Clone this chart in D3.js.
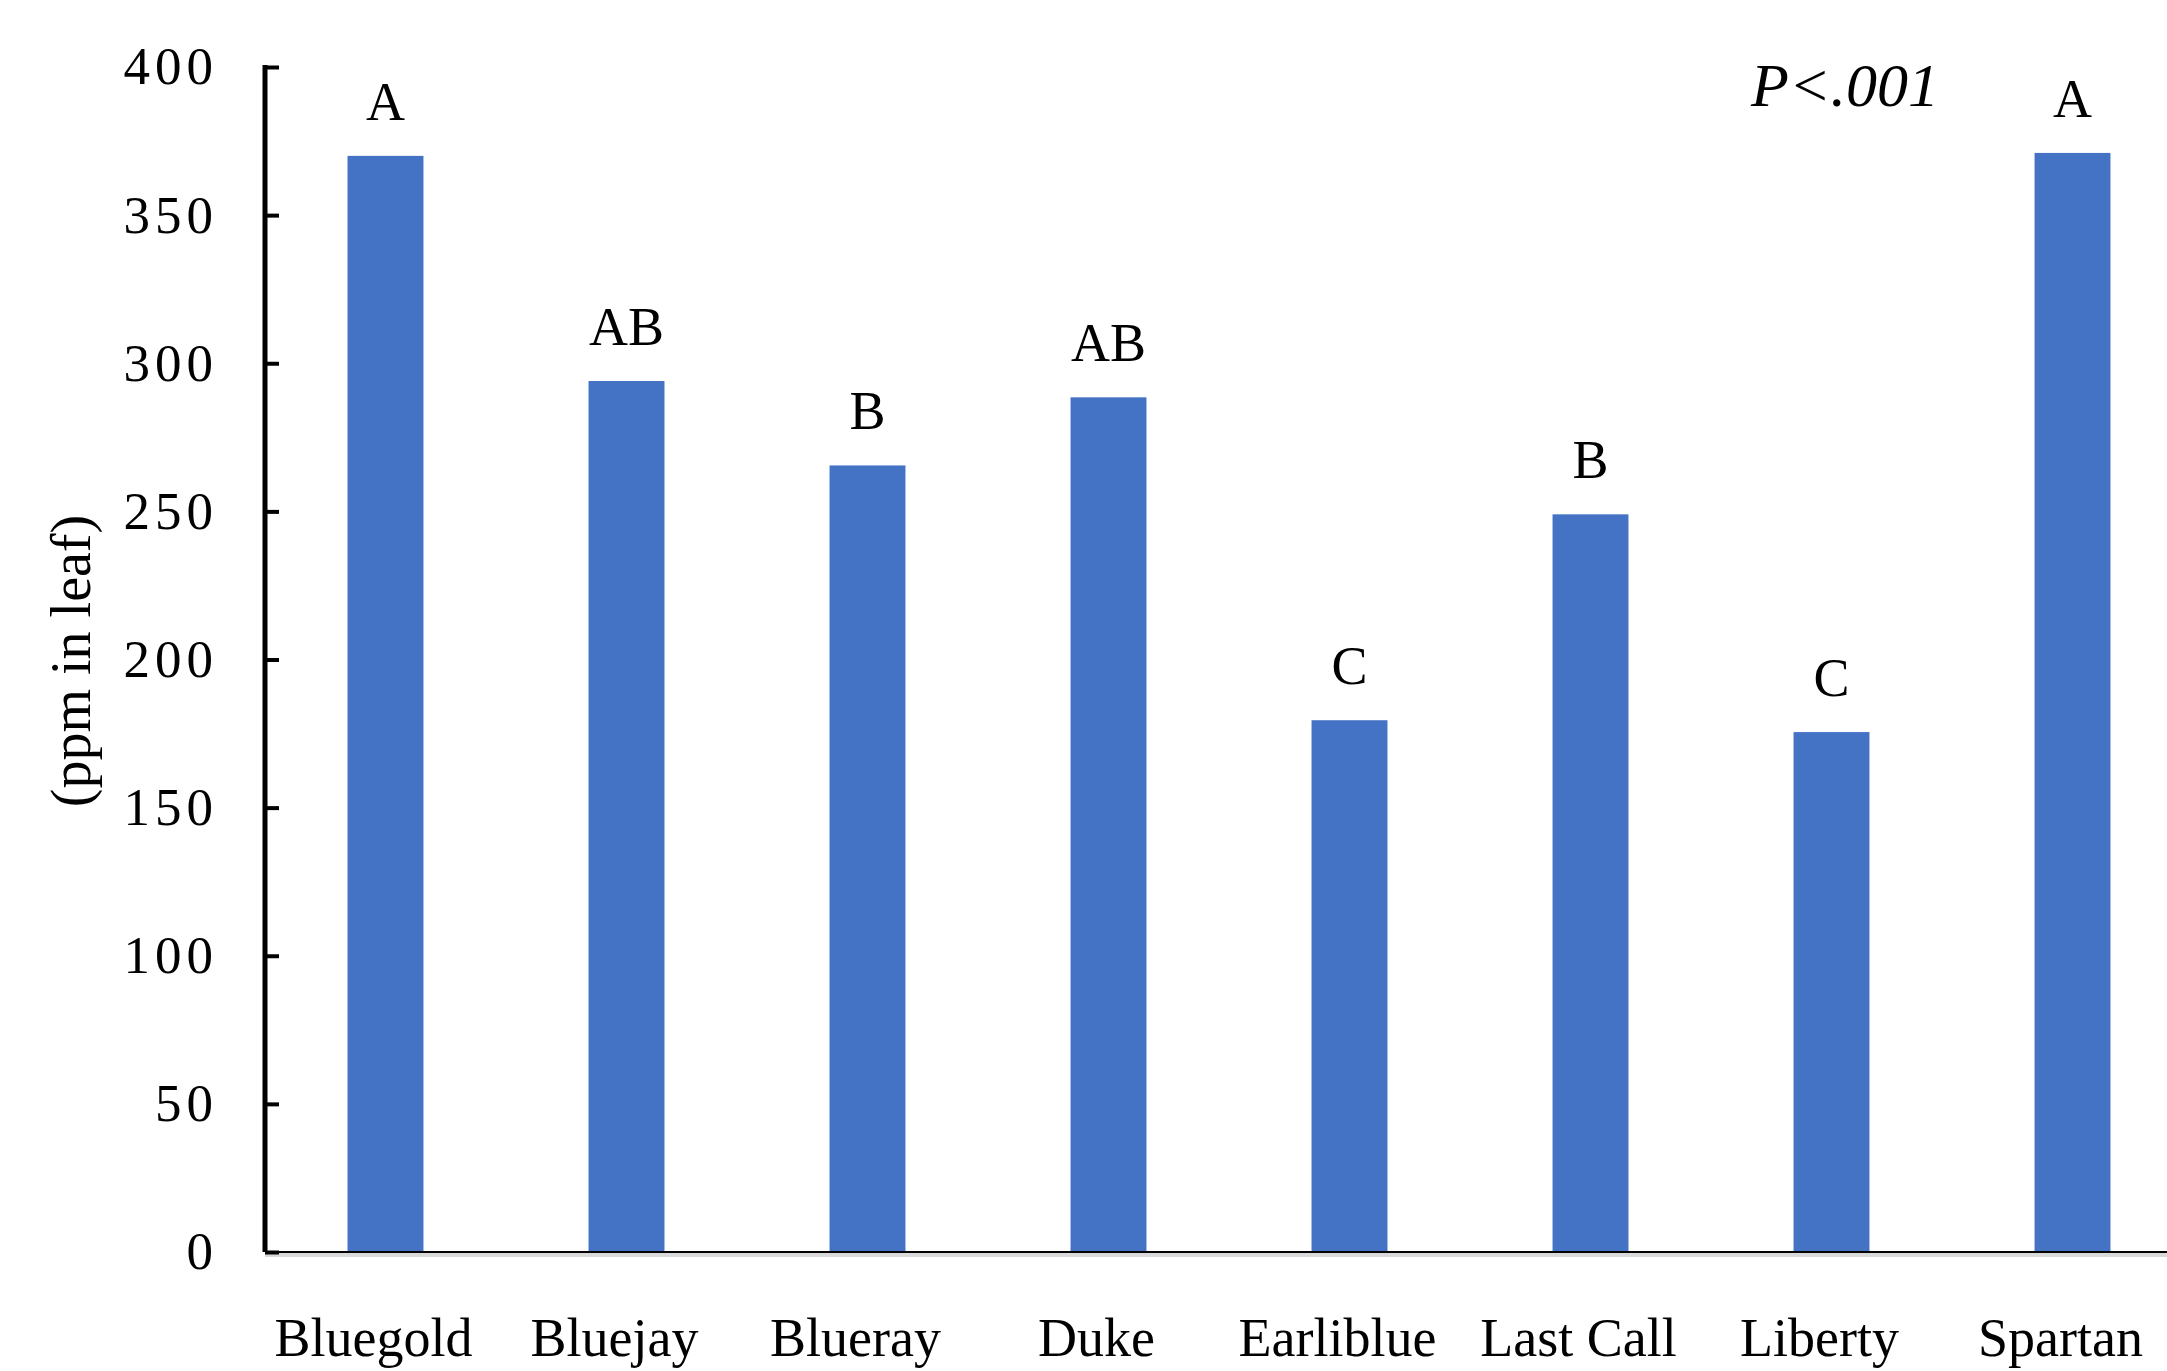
<!DOCTYPE html>
<html>
<head>
<meta charset="utf-8">
<script src="https://cdn.jsdelivr.net/npm/d3@7"></script>
<style>
  body { margin: 0; background: #fff; }
  svg { display: block; }
</style>
</head>
<body>
<div id="chart"></div>
<script>
// data
const cultivars = ["Bluegold", "Bluejay", "Blueray", "Duke", "Earliblue", "Last Call", "Liberty", "Spartan"]
const ppm = [370, 294, 265.5, 288.5, 179.5, 249, 175.5, 371]
const letters = ["A", "AB", "B", "AB", "C", "B", "C", "A"]
const yTicks = [0, 50, 100, 150, 200, 250, 300, 350, 400]

const width = 2167, height = 1371

const svg = d3.select("#chart").append("svg")
    .attr("width", width)
    .attr("height", height)

// plot area (right side runs past the picture edge, like the original crop)
const x = d3.scaleBand()
    .domain(cultivars)
    .range([265, 2193])
    .paddingInner(0.685)
    .paddingOuter(0.3425)

const y = d3.scaleLinear()
    .domain([0, 400])
    .range([1252, 67])

// bars
svg.selectAll(".bar")
    .data(cultivars)
    .enter().append("rect")
    .attr("class", "bar")
    .attr("x", d => x(d))
    .attr("width", x.bandwidth())
    .attr("y", (d, i) => y(ppm[i]))
    .attr("height", (d, i) => y(0) - y(ppm[i]))
    .attr("fill", "#4472C4")

// significance letters
svg.selectAll(".letter")
    .data(cultivars)
    .enter().append("text")
    .attr("class", "letter")
    .attr("x", d => x(d) + x.bandwidth() / 2)
    .attr("y", (d, i) => y(ppm[i]) - 36)
    .attr("text-anchor", "middle")
    .style("font-family", "'Liberation Serif', 'Times New Roman', serif")
    .style("font-size", "54px")
    .text((d, i) => letters[i])

// x axis baseline with faint shadow
svg.append("line")
    .attr("x1", 265).attr("x2", width)
    .attr("y1", y(0) + 3).attr("y2", y(0) + 3)
    .attr("stroke", "#d9d9d9").attr("stroke-width", 4)
svg.append("line")
    .attr("x1", 265).attr("x2", width)
    .attr("y1", y(0)).attr("y2", y(0))
    .attr("stroke", "#000").attr("stroke-width", 2)

// category labels, sitting a little left of the bar centres as in the original
svg.selectAll(".cat")
    .data(cultivars)
    .enter().append("text")
    .attr("class", "cat")
    .attr("x", d => x(d) + x.bandwidth() / 2 - 12)
    .attr("y", 1356)
    .attr("text-anchor", "middle")
    .style("font-family", "'Liberation Serif', 'Times New Roman', serif")
    .style("font-size", "54px")
    .text(d => d)

// y axis
const yAxis = d3.axisRight(y)
    .tickValues(yTicks)
    .tickSize(14)
    .tickFormat(d3.format("d"))

const ya = svg.append("g")
    .attr("transform", "translate(265,0)")
    .call(yAxis)

ya.select(".domain").remove()
ya.append("line")
    .attr("x1", 0).attr("x2", 0)
    .attr("y1", y(400) - 2).attr("y2", y(0))
    .attr("stroke", "#000").attr("stroke-width", 5)
ya.selectAll(".tick line")
    .attr("stroke", "#000").attr("stroke-width", 4)
ya.selectAll(".tick text")
    .attr("x", -47)
    .attr("dy", "0.32em")
    .attr("text-anchor", "end")
    .attr("fill", "#000")
    .style("font-family", "'Liberation Serif', 'Times New Roman', serif")
    .style("font-size", "53px")
    .style("letter-spacing", "5px")

// y axis title
svg.append("text")
    .attr("transform", "translate(90,661) rotate(-90)")
    .attr("text-anchor", "middle")
    .style("font-family", "'Liberation Serif', 'Times New Roman', serif")
    .style("font-size", "56px")
    .text("(ppm in leaf)")

// p value
svg.append("text")
    .attr("x", 1845)
    .attr("y", 106)
    .attr("text-anchor", "middle")
    .style("font-family", "'Liberation Serif', 'Times New Roman', serif")
    .style("font-style", "italic")
    .style("font-size", "62px")
    .text("P<.001")
</script>
</body>
</html>
